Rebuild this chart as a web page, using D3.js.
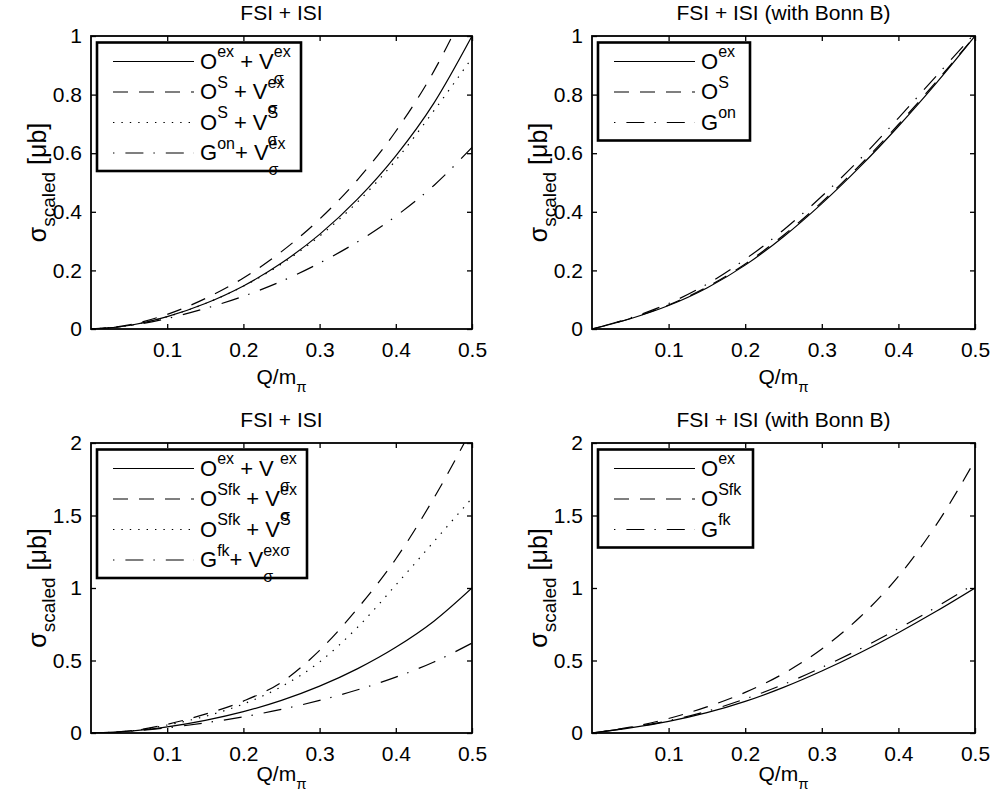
<!DOCTYPE html>
<html>
<head>
<meta charset="utf-8">
<script src="https://cdn.jsdelivr.net/npm/d3@7"></script>
<style>
  body { margin: 0; background: #fff; }
  svg text { font-family: "Liberation Sans", Arial, Helvetica, sans-serif; fill: #000; white-space: pre; }
</style>
</head>
<body>
<svg id="chart" width="993" height="803"></svg>
<script>
// Q/m_pi sample points
var qValues = [0, 0.05, 0.1, 0.15, 0.2, 0.25, 0.3, 0.35, 0.4, 0.45, 0.5];
var xTicks = [0.1, 0.2, 0.3, 0.4, 0.5];
var yTicksTop = [0, 0.2, 0.4, 0.6, 0.8, 1];
var yTicksBottom = [0, 0.5, 1, 1.5, 2];

// top left: FSI + ISI
var tlSolid  = [0, 0.012, 0.042, 0.087, 0.147, 0.225, 0.323, 0.444, 0.591, 0.771, 1.0];
var tlDashed = [0, 0.014, 0.05, 0.104, 0.174, 0.264, 0.375, 0.51, 0.675, 0.88, 1.14];
var tlDotted = [0, 0.012, 0.042, 0.087, 0.146, 0.222, 0.317, 0.434, 0.576, 0.745, 0.925];
var tlDashDot = [0, 0.011, 0.036, 0.07, 0.112, 0.163, 0.225, 0.298, 0.385, 0.49, 0.62];
var tlLabels = ['O^{ex} + V^{ex}_{σ}', 'O^{S} + V^{ex}_{σ}', 'O^{S} + V^{S}_{σ}', 'G^{on}+ V^{ex}_{σ}'];

// top right: FSI + ISI (with Bonn B)
var trSolid  = [0, 0.035, 0.08, 0.14, 0.218, 0.315, 0.428, 0.554, 0.692, 0.841, 1.0];
var trDashed = [0, 0.036, 0.082, 0.143, 0.222, 0.32, 0.433, 0.56, 0.698, 0.846, 1.0];
var trDashDot = [0, 0.038, 0.087, 0.153, 0.238, 0.338, 0.453, 0.58, 0.72, 0.865, 1.01];
var trLabels = ['O^{ex}', 'O^{S}', 'G^{on}'];

// bottom left: FSI + ISI
var blSolid  = [0, 0.012, 0.042, 0.087, 0.147, 0.225, 0.323, 0.444, 0.591, 0.771, 1.0];
var blDashed = [0, 0.014, 0.06, 0.13, 0.22, 0.35, 0.57, 0.86, 1.2, 1.62, 2.1];
var blDotted = [0, 0.013, 0.055, 0.115, 0.2, 0.32, 0.49, 0.73, 1.02, 1.32, 1.62];
var blDashDot = [0, 0.011, 0.036, 0.07, 0.112, 0.163, 0.225, 0.298, 0.385, 0.49, 0.62];
var blLabels = ['O^{ex} + V ^{ex}_{σ}', 'O^{Sfk} + V^{ex}_{σ}', 'O^{Sfk} + V^{S}', 'G^{fk}+ V^{ex}_{σ}^{σ}'];

// bottom right: FSI + ISI (with Bonn B)
var brSolid  = [0, 0.035, 0.08, 0.14, 0.218, 0.315, 0.428, 0.554, 0.692, 0.841, 1.0];
var brDashed = [0, 0.04, 0.1, 0.18, 0.28, 0.41, 0.58, 0.8, 1.08, 1.44, 1.88];
var brDashDot = [0, 0.037, 0.085, 0.15, 0.235, 0.335, 0.452, 0.58, 0.72, 0.87, 1.03];
var brLabels = ['O^{ex}', 'O^{Sfk}', 'G^{fk}'];

var titles = ['FSI + ISI', 'FSI + ISI (with Bonn B)'];

var styles = {
  solid: null,
  dashed: '15,11',
  dotted: '1.4,7',
  dashdot: '1.4,11,18,10'
};

var svg = d3.select('#chart');

// tiny TeX-ish parser: ^{..} and _{..}, stacked when adjacent
function parseTex(s) {
  var out = [], i = 0, buf = '';
  function group() {
    if (s[i] === '{') {
      var j = s.indexOf('}', i);
      var g = s.slice(i + 1, j);
      i = j + 1;
      return g;
    }
    return s[i++];
  }
  while (i < s.length) {
    var c = s[i];
    if (c === '^' || c === '_') {
      if (buf) { out.push({t: buf}); buf = ''; }
      i++;
      var part = {};
      part[c === '^' ? 'sup' : 'sub'] = group();
      if ((s[i] === '^' && !part.sup) || (s[i] === '_' && !part.sub)) {
        var c2 = s[i]; i++;
        part[c2 === '^' ? 'sup' : 'sub'] = group();
      }
      out.push(part);
    } else {
      buf += c; i++;
    }
  }
  if (buf) out.push({t: buf});
  return out;
}

function drawTex(g, s, size, small) {
  var x = 0;
  small = small || Math.round(size * 0.72);
  parseTex(s).forEach(function(p) {
    if (p.t !== undefined) {
      var t = g.append('text').attr('x', x).attr('y', 0).style('font-size', size + 'px').text(p.t);
      x += t.node().getComputedTextLength();
    } else {
      var w = 0;
      if (p.sup) {
        var a = g.append('text').attr('x', x).attr('y', -0.52 * size).style('font-size', small + 'px').text(p.sup);
        w = Math.max(w, a.node().getComputedTextLength());
      }
      if (p.sub) {
        var dy = p.sup ? 0.69 * size : 0.36 * size;
        var b = g.append('text').attr('x', x).attr('y', dy).style('font-size', small + 'px').text(p.sub);
        w = Math.max(w, b.node().getComputedTextLength());
      }
      x += w;
    }
  });
  return x;
}

var panels = [
  {left: 91, top: 36, width: 381, height: 293, ymax: 1, yTicks: yTicksTop, title: titles[0],
   series: [[tlSolid, 'solid'], [tlDashed, 'dashed'], [tlDotted, 'dotted'], [tlDashDot, 'dashdot']],
   labels: tlLabels, legendW: 204, xlabelY: 384},
  {left: 592, top: 36, width: 383, height: 293, ymax: 1, yTicks: yTicksTop, title: titles[1],
   series: [[trSolid, 'solid'], [trDashed, 'dashed'], [trDashDot, 'dashdot']],
   labels: trLabels, legendW: 152, xlabelY: 384},
  {left: 91, top: 443, width: 381, height: 290, ymax: 2, yTicks: yTicksBottom, title: titles[0],
   series: [[blSolid, 'solid'], [blDashed, 'dashed'], [blDotted, 'dotted'], [blDashDot, 'dashdot']],
   labels: blLabels, legendW: 210, xlabelY: 781},
  {left: 592, top: 443, width: 383, height: 290, ymax: 2, yTicks: yTicksBottom, title: titles[1],
   series: [[brSolid, 'solid'], [brDashed, 'dashed'], [brDashDot, 'dashdot']],
   labels: brLabels, legendW: 155, xlabelY: 781}
];

var labelStyles = {4: ['solid', 'dashed', 'dotted', 'dashdot'], 3: ['solid', 'dashed', 'dashdot']};

panels.forEach(function(p, pi) {
  var x = d3.scaleLinear().domain([0, 0.5]).range([0, p.width]);
  var y = d3.scaleLinear().domain([0, p.ymax]).range([p.height, 0]);

  var g = svg.append('g').attr('transform', 'translate(' + p.left + ',' + p.top + ')');

  g.append('clipPath').attr('id', 'clip' + pi)
    .append('rect').attr('width', p.width).attr('height', p.height);

  // curves
  var line = d3.line()
    .x(function(d, i) { return x(qValues[i]); })
    .y(function(d) { return y(d); })
    .curve(d3.curveMonotoneX);

  p.series.forEach(function(s) {
    g.append('path')
      .attr('d', line(s[0]))
      .attr('clip-path', 'url(#clip' + pi + ')')
      .attr('fill', 'none')
      .attr('stroke', '#000')
      .attr('stroke-width', 1.2)
      .attr('stroke-dasharray', styles[s[1]]);
  });

  // axes with inward ticks on all four sides
  var tickLen = -5;
  g.append('g').attr('transform', 'translate(0,' + p.height + ')')
    .call(d3.axisBottom(x).tickValues(xTicks).tickSize(tickLen).tickPadding(13).tickFormat(d3.format('.1f')));
  g.append('g')
    .call(d3.axisTop(x).tickValues(xTicks).tickSize(tickLen).tickFormat(''));
  g.append('g')
    .call(d3.axisLeft(y).tickValues(p.yTicks).tickSize(tickLen).tickPadding(9).tickFormat(d3.format('')));
  g.append('g').attr('transform', 'translate(' + p.width + ',0)')
    .call(d3.axisRight(y).tickValues(p.yTicks).tickSize(tickLen).tickFormat(''));

  g.selectAll('.domain').remove();
  g.selectAll('.tick line').attr('stroke', '#000').attr('stroke-width', 1.3);
  g.selectAll('.tick text').style('font-size', '21px').style('font-family', null).attr('fill', '#000');

  g.append('rect')
    .attr('width', p.width).attr('height', p.height)
    .attr('fill', 'none').attr('stroke', '#000').attr('stroke-width', 1.8);

  // title
  g.append('text')
    .attr('x', p.width / 2).attr('y', -16)
    .attr('text-anchor', 'middle')
    .style('font-size', '21px')
    .text(p.title);

  // x label
  var xl = svg.append('g');
  var xw = drawTex(xl, 'Q/m_{π}', 21, 15);
  xl.attr('transform', 'translate(' + (p.left + p.width / 2 - xw / 2) + ',' + p.xlabelY + ')');

  // y label
  var yl = svg.append('g');
  var yw = drawTex(yl, 'σ_{scaled} [μb]', 25, 19);
  yl.attr('transform', 'translate(' + (p.left - 45) + ',' + (p.top + p.height / 2) + ') rotate(-90) translate(' + (-yw / 2) + ',0)');

  // legend
  var n = p.labels.length;
  var lg = g.append('g').attr('transform', 'translate(6,6.5)');
  lg.append('rect')
    .attr('width', p.legendW).attr('height', 37 + (n - 1) * 30.5)
    .attr('fill', '#fff').attr('stroke', '#000').attr('stroke-width', 2.6);

  p.labels.forEach(function(lab, i) {
    var cy = 19 + i * 30.5;
    lg.append('line')
      .attr('x1', 16).attr('x2', 97).attr('y1', cy).attr('y2', cy)
      .attr('stroke', '#000').attr('stroke-width', 1.2)
      .attr('stroke-dasharray', styles[labelStyles[n][i]]);
    var t = lg.append('g').attr('transform', 'translate(103,' + (cy + 7) + ')');
    drawTex(t, lab, 22, 16);
  });
});
</script>
</body>
</html>
